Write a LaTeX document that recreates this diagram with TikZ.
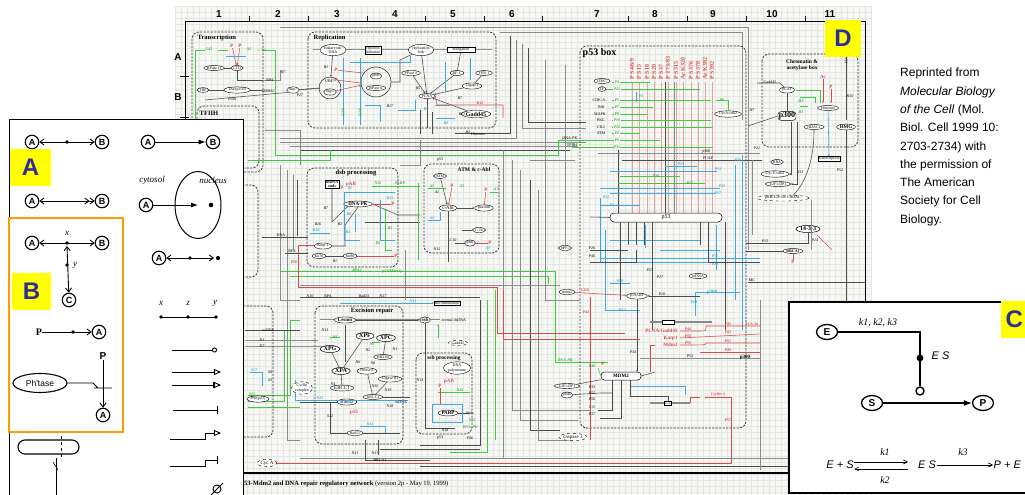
\documentclass[tikz,border=0pt]{standalone}
\usepackage{fontspec}
\setmainfont{Liberation Serif}
\newfontfamily\arialf{Liberation Sans}
\usetikzlibrary{arrows.meta,shapes.geometric}
\definecolor{gridc}{HTML}{E2E8E0}
\definecolor{bgc}{HTML}{F7F8F5}
\definecolor{grn}{HTML}{3FCB3F}
\definecolor{blu}{HTML}{3FA9DD}
\definecolor{rdc}{HTML}{DD4848}
\definecolor{pnk}{HTML}{EBA0A0}
\definecolor{gry}{HTML}{8A8A8A}
\definecolor{lblue}{HTML}{2E2E9A}
\definecolor{ylw}{HTML}{FFFF00}
\definecolor{orng}{HTML}{FF9A00}
\newcommand{\myfa}{\fontsize{4}{4.4}\selectfont}
\newcommand{\myfb}{\fontsize{5}{5.5}\selectfont}
\newcommand{\myfc}{\fontsize{6}{6.5}\selectfont}
\begin{document}
\begin{tikzpicture}[x=1pt,y=-1pt,
  lbl/.style={font=\myfa\itshape, inner sep=0.3pt},
  txt/.style={font=\myfa, inner sep=0.3pt},
  glab/.style={font=\myfa\bfseries\itshape, text=grn!85!black, inner sep=0.3pt},
  blab/.style={font=\myfa\bfseries\itshape, text=blu, inner sep=0.3pt},
  rlab/.style={font=\myfa\bfseries\itshape, text=rdc, inner sep=0.3pt},
  rp/.style={font=\myfb\bfseries, text=rdc, inner sep=0.3pt},
  rvl/.style={font=\myfc\bfseries, text=rdc, inner sep=0.3pt, rotate=90, anchor=west},
  ell/.style={ellipse, draw, line width=0.4pt, fill=white, inner sep=0.4pt, font=\myfa, align=center},
  bell/.style={ellipse, draw, line width=0.5pt, fill=white, inner sep=0.5pt, font=\myfc\bfseries},
  rbox/.style={draw, line width=0.4pt, fill=white, inner sep=0.6pt, font=\myfa, align=center},
  dbox/.style={draw=black!80, line width=0.75pt, dash pattern=on 2.2pt off 1.3pt, rounded corners=7pt},
  ttl/.style={font=\fontsize{6.5}{7}\selectfont\bfseries, inner sep=0.5pt, align=center},
  gl/.style={draw=gry, line width=0.5pt},
  kl/.style={draw=black!70, line width=0.55pt},
  gr/.style={draw=grn, line width=0.6pt},
  bu/.style={draw=blu, line width=0.6pt},
  rd/.style={draw=rdc, line width=0.55pt},
  pk/.style={draw=pnk, line width=0.6pt},
  sar/.style={-{Stealth[length=2.2pt,width=1.8pt]}},
  colnum/.style={font=\arialf\bfseries\fontsize{10}{10}\selectfont, inner sep=0pt},
  circ/.style={circle, draw, line width=1.1pt, inner sep=0pt, minimum size=13.5pt, fill=white, font=\arialf\bfseries\fontsize{9}{9}\selectfont},
  pl/.style={line width=0.9pt},
  barb/.style={{Straight Barb[length=4pt,width=6pt]}-{Straight Barb[length=4pt,width=6pt]}},
  ceq/.style={font=\arialf\itshape\fontsize{11}{11}\selectfont, inner sep=0.5pt},
  ck/.style={font=\itshape\fontsize{10}{10}\selectfont, inner sep=0.5pt},
  cell/.style={ellipse, draw, line width=1.3pt, fill=white, inner sep=0.5pt, minimum width=21pt, minimum height=15pt, font=\arialf\bfseries\fontsize{10}{10}\selectfont},
  tag/.style={fill=ylw, inner sep=0pt, text=lblue, font=\arialf\bfseries\fontsize{24}{24}\selectfont}
]
\useasboundingbox (0,0) rectangle (1025,495);
\fill[white] (0,0) rectangle (1025,495);
% ---------- background grid ----------
\fill[bgc] (175,6) rectangle (871,495);
\foreach \i in {0,...,116} \draw[gridc,line width=0.25pt] ({175+6*\i},6) -- ({175+6*\i},495);
\foreach \j in {0,...,81} \draw[gridc,line width=0.25pt] (175,{6+6*\j}) -- (871,{6+6*\j});
% ---------- frame ----------
\foreach \n/\x in {1/219,2/278,3/337,4/395,5/453,6/512,7/597,8/655,9/713,10/772,11/830}
  \node[colnum] (c\n) at (\x,14) {\n};
\foreach \x in {249,308,367,425,484,542,628,687,746,805}
  \draw[black,line width=0.8pt] (\x,16) -- (\x,22);
\node[colnum] (ra) at (178,57) {A};
\node[colnum] (rb) at (178,97) {B};
\draw[black,line width=0.8pt] (180,76) -- (189,76) (180,117) -- (189,117);
\draw[black,line width=1pt] (185,473) -- (185,22) -- (865,22) -- (865,473);
\draw[black,line width=1.4pt] (185,473) -- (865,473);
\node[anchor=west, font=\fontsize{6.5}{7}\selectfont, inner sep=0pt] (cap) at (244,484) {\textbf{53-Mdm2 and DNA repair regulatory network} (version 2p - May 19, 1999)};

% ---------- long background connectors ----------
\draw[gl] (280,27) -- (748,27) -- (748,250);
\draw[gl] (500,32) -- (742,32) -- (742,120);
\draw[kl] (510,36) -- (510,133) -- (455,133);
\draw[gl] (516,40) -- (516,138) -- (280,138);
\draw[gl] (280,142) -- (586,142);
\draw[gl] (290,146) -- (578,146);
\draw[kl] (300,150) -- (570,150);
\draw[gl] (265,130) -- (300,130) -- (300,165);
\draw[gl] (522,44) -- (522,128) -- (586,128);
\draw[kl] (528,48) -- (528,122) -- (586,122);
\draw[gl] (545,60) -- (545,300) -- (580,300);
\draw[gl] (565,65) -- (565,250);
\draw[gr] (262,50) -- (275,50) -- (275,155) -- (558,155) -- (558,140) -- (612,140);
\draw[gr] (248,160) -- (330,160) -- (330,150);
\draw[gr] (572,147) -- (612,147);
\draw[gr] (280,271) -- (555,271) -- (555,362) -- (608,362);
\draw[gr] (290,276) -- (548,276) -- (548,284);
\draw[gr] (487,300) -- (487,452) -- (450,452);
\draw[gr] (248,395) -- (290,395) -- (290,320) -- (300,320);
\draw[gr] (248,401) -- (284,401) -- (284,330);
\draw[gr] (248,407) -- (300,407);
\draw[gr] (495,290) -- (495,440);
\draw[gl] (280,165) -- (280,300) -- (300,300);
\draw[gl] (287,170) -- (287,440) -- (300,440);
\draw[gl] (293,175) -- (293,250);
\draw[kl] (297,180) -- (297,236);
\draw[gl] (503,150) -- (503,458);
\draw[gl] (512,160) -- (512,410) -- (590,410);
\draw[gl] (520,170) -- (520,420) -- (578,420);
\draw[kl] (530,180) -- (530,430) -- (560,430);
\draw[gl] (538,190) -- (538,440) -- (570,440);
\draw[kl] (480,300) -- (480,445) -- (420,445);
\draw[gl] (300,458) -- (865,458);
\draw[kl] (380,449) -- (480,449);
\draw[kl] (420,466) -- (865,466);
\draw[gl] (400,165) -- (420,165) -- (420,140);
\draw[kl] (262,237) -- (308,237);
\draw[kl] (285,253) -- (308,253);
\draw[kl] (245,330) -- (300,330);
\draw[gl] (245,340) -- (318,340);
\draw[gl] (245,346) -- (322,346);
\draw[kl] (300,297) -- (480,297);
\draw[gl] (405,250) -- (405,300);
\draw[gl] (530,160) -- (575,160);
\draw[gl] (300,285) -- (560,285);
\draw[rd] (298,245) -- (315,245);
\draw[rd] (298,245) -- (298,287) -- (497,287) -- (497,333) -- (598,333);
\draw[rd] (503,290) -- (503,339) -- (598,339);
\node[txt] (tdna) at (281,235) {DNA};
\node[txt] (trpa) at (292,251) {RPA};
\node[lbl] (th7) at (283,72) {H7};
\node[lbl] (tp27) at (300,95) {P27};
\node[glab] (trpa2) at (357,270) {RPA2};
\node[glab] (tp53m) at (392,272) {p53(Mdm2)};
\node[rlab] (tp50) at (294,262) {P50};
\node[lbl] (tn10) at (310,296) {N10};
\node[txt] (trpb) at (328,296) {RPA};
\node[txt] (trad) at (364,296) {Rad23};
\node[lbl] (tn17) at (383,296) {N17};
\node[txt] (thist) at (478,134) {Histones};
\node[lbl] (th2) at (468,132) {H2};

% ---------- Transcription ----------
\draw[dbox] (192,32) rectangle (263,172);
\node[ttl, anchor=west] (ttr) at (197,38) {Transcription};
\draw[dbox] (197,106) rectangle (259,168);
\node[ttl, anchor=west] (ttf) at (199,113) {TFIIH};
\node[ell] (rp2) at (214,68) {RPase II};
\node[ell] (ctd) at (237,68) {CTD};
\node[ell] (tbp) at (203,90) {TBP};
\node[ell] (taf) at (237,90) {TAF(p250)};
\node[ell] (skq) at (293,90) {Skp?};
\draw[gr] (205,50) -- (195,50) -- (195,172);
\draw[gr] (218,50) -- (228,50);
\node[glab] (c42) at (209,49) {C42};
\node[glab] (ta5) at (249,49) {A5};
\node[txt, text=grn!85!black] (tcab) at (262,50) {c-Abl};
\node[rp] (trp1) at (232,46) {P};
\node[rp] (trp2) at (240,46) {P};
\draw[rd,sar] (trp1) -- (ctd);
\draw[rd,sar] (trp2) -- (ctd);
\draw[bu] (226,56) -- (246,56);
\draw[kl] (rp2) -- (ctd);
\draw[kl] (ctd.south) -- (237,80) -- (265,80);
\draw[kl] (tbp) -- (taf);
\draw[kl] (taf) -- (262,90);
\draw[kl] (205,100) -- (skq.south west);
\draw[gl] (263,80) -- (280,80) -- (280,70);
\draw[kl] (skq) -- (320,88);
\node[txt] (tmdm) at (268,91) {MDM2};
\node[txt] (trpa3) at (270,80) {RPA};
\node[lbl] (tpob) at (232,99) {POB};

% ---------- Replication ----------
\draw[dbox] (308,32) rectangle (496,128);
\node[ttl, anchor=west] (trep) at (313,38) {Replication};
\draw[gry, line width=1.8pt] (313,50) -- (492,50);
\draw[white, line width=0.5pt] (313,50) -- (492,50);
\node[ell] (edna) at (333,50) {Eukaryotic\\DNA};
\node[rbox] (rini) at (373,50) {replicon\\initiation};
\node[ell] (rfrk) at (421,50) {replication\\fork};
\node[rbox, minimum width=28pt] (elng) at (461,50) {elongation};
\node[circle, draw, minimum size=22pt, line width=0.4pt] (ubfc) at (330,88) {};
\node[txt] (tubf) at (330,81) {UBF?};
\node[ell] (skp1) at (330,92) {Skp1};
\node[circle, draw, minimum size=30pt, line width=0.4pt] (prbc) at (376,82) {};
\node[ell] (prb1) at (376,76) {pRB};
\node[ell] (rpa) at (376,88) {RPase α};
\node[ell] (ppd) at (411,73) {PPase δ};
\node[ell] (rfc) at (457,73) {RF-C};
\node[ell] (fen) at (484,73) {FEN-1};
\node[ell] (lig1) at (472,86) {Ligase I};
\node[ell] (pcna) at (427,96) {PCNA};
\node[ell, font=\myfc\bfseries] (gad) at (476,114) {Gadd45};
\draw[kl,sar] (edna) -- (ubfc);
\draw[kl] (skq) -- (ubfc);
\draw[rd,sar] (skp1) -- (prbc);
\draw[kl,sar] (rfrk) -- (pcna);
\draw[kl,sar] (ppd) -- (pcna);
\draw[kl,sar] (rfc) -- (pcna);
\draw[kl,sar] (lig1) -- (pcna);
\draw[kl] (fen) -- (lig1);
\draw[kl,sar] (gad) -- (pcna);
\draw[kl] (rfc) -- (elng);
\draw[kl] (prbc.east) -- (400,82) -- (400,60) -- (rfrk);
\draw[kl] (pcna) -- (427,128);
\draw[kl] (420,110) -- (420,134);
\draw[kl] (432,112) -- (432,134);
\draw[bu] (343,58) -- (343,125);
\draw[bu] (360,58) -- (360,125);
\draw[bu] (350,62) -- (410,62) -- (410,56);
\draw[bu] (445,62) -- (445,92);
\draw[bu] (470,58) -- (470,80);
\draw[bu] (398,110) -- (415,110) -- (415,100);
\draw[bu] (365,105) -- (380,105) -- (380,122);
\draw[bu] (435,105) -- (450,105);
\draw[bu] (436,118) -- (455,118);
\node[glab, rotate=90] (g1a) at (343,112) {G1/S};
\node[glab, rotate=90] (g1b) at (360,112) {G1/S};
\node[blab] (r6) at (426,109) {R6};
\node[blab] (r8) at (446,123) {R8};
\draw[rd] (pcna.east) -- (437,105) -- (503,105) -- (503,118);
\node[rlab] (r12) at (480,103) {R12};
\node[rp] (rp3) at (336,70) {P};
\node[rp] (rp4) at (336,80) {P};
\draw[rd] (rp3) -- (363,73);
\draw[rd] (rp4) -- (361,83);
\node[lbl] (tr1) at (326,67) {R1};
\node[lbl] (tr17) at (390,106) {R17};
\node[lbl] (tr13) at (462,114) {R13};
\node[lbl] (tr7) at (460,98) {R7};
\node[lbl] (tr5) at (418,88) {R5};

% ---------- dsb processing ----------
\draw[dbox] (307,168) rectangle (398,267);
\node[ttl] (tdsb) at (356,173) {dsb processing};
\node[rbox, font=\myfa\bfseries] (dse) at (332,184) {dsDNA\\ends};
\node[ell, font=\myfb\bfseries] (dpk) at (358,204) {DNA-PK};
\node[ell] (krp) at (323,246) {Karp-1};
\node[ell] (ku70) at (319,256) {Ku70};
\node[ell] (ku80) at (350,256) {Ku80};
\draw[kl,sar] (dse) -- (332,222) -- (dpk.south west);
\draw[kl] (ku70) -- (ku80);
\draw[kl] (krp) -- (345,246) -- (345,225) -- (dpk.south);
\draw[kl] (dpk.east) -- (398,215) -- (420,215);
\draw[kl] (365,222) -- (420,222);
\draw[bu] (344,192) -- (395,192);
\draw[bu] (344,192) -- (344,240) -- (360,240);
\draw[bu] (380,200) -- (380,240) -- (395,240);
\draw[bu] (355,214) -- (355,232);
\draw[bu] (310,233) -- (330,233);
\node[blab] (b5) at (350,188) {B5};
\node[blab] (b6) at (349,214) {B6};
\node[blab] (b4) at (348,232) {B4};
\node[blab] (b13) at (390,198) {B13};
\node[blab] (b18) at (316,230) {B18};
\draw[gr] (372,186) -- (420,186);
\draw[gr] (385,210) -- (385,250) -- (392,250);
\node[glab] (n15) at (378,183) {N15};
\node[glab] (tparp) at (400,183) {PARP};
\node[glab] (d5) at (378,243) {D5};
\node[glab] (b5g) at (390,228) {B5};
\node[rp] (rp5) at (342,188) {P};
\node[rp] (rp6) at (351,184) {pAB};
\node[rp] (rp7) at (393,204) {P};
\node[rp] (rp8) at (396,256) {P};
\draw[rd] (rp7) -- (dpk);
\draw[rd] (ku80) -- (rp8);
\node[lbl] (tr7b) at (326,208) {R7};
\node[lbl] (tb16) at (318,224) {B16};
\node[lbl] (tr3) at (340,224) {R3};
\node[lbl] (tr1b) at (335,261) {R1};

% ---------- ATM & c-Abl ----------
\draw[dbox] (424,164) rectangle (499,253);
\node[ttl, font=\fontsize{5.5}{6}\selectfont\bfseries] (tatm) at (474,170) {ATM \& c-Abl};
\node[ell] (atm) at (440,176) {ATM};
\node[ell, font=\myfb] (cabl) at (448,208) {c-Abl};
\node[ell] (pax) at (484,208) {paxillin};
\node[ell] (ctk) at (479,230) {C-Tk};
\node[ell] (prba) at (470,243) {pRb};
\draw[kl,sar] (atm) -- (cabl);
\draw[kl,sar] (cabl) -- (pax);
\draw[kl] (cabl) -- (448,262);
\draw[kl] (ctk) -- (462,230);
\draw[kl] (prba) -- (455,243);
\node[rp] (rp9) at (452,186) {p};
\node[rp] (rp10) at (486,190) {P};
\node[rp] (rp11) at (490,243) {P};
\draw[rd,sar] (rp9) -- (cabl);
\draw[rd,sar] (rp10) -- (pax);
\draw[rd] (prba) -- (rp11);
\draw[gr] (428,188) -- (446,188);
\draw[gr] (490,192) -- (498,192);
\node[glab] (a5) at (432,186) {A5};
\node[glab] (a3) at (462,186) {A3};
\node[glab] (a7) at (496,189) {A7};
\draw[bu] (428,220) -- (440,220) -- (440,212);
\node[blab] (a6) at (432,218) {A6};
\node[blab] (a9) at (488,248) {A9};
\node[lbl] (ta1) at (437,192) {A1};
\node[lbl] (tc10) at (453,240) {C10};
\node[lbl] (tn12) at (437,249) {N12};
\node[txt] (tp53a) at (440,160) {p53};
\draw[gr] (418,183) -- (418,260);

% ---------- Excision repair ----------
\draw[dbox] (315,306) rectangle (403,444);
\node[ttl] (texc) at (372,311) {Excision repair};
\draw[gry, line width=1.8pt] (320,320) -- (440,320);
\draw[white, line width=0.5pt] (320,320) -- (440,320);
\node[ell, font=\myfb\bfseries] (les) at (345,320) {Lesion};
\node[ell, font=\myfb\bfseries] (ssb) at (425,320) {ssb};
\node[txt, anchor=west] (tnds) at (441,320) {normal dsDNA};
\node[bell] (xpf) at (365,336) {XPF};
\node[bell] (xpc) at (386,338) {XPC};
\node[bell] (xpg) at (330,349) {XPG};
\node[ell] (hr23) at (383,357) {HR23B};
\node[bell] (xpa) at (341,371) {XPA};
\node[ell, font=\myfb] (erc) at (342,388) {ERCC1};
\node[ell] (dpb) at (367,371) {DPase β};
\node[ell] (lg3) at (390,379) {Ligase III};
\node[ell] (xrc) at (373,397) {XRCC1};
\node[ell, font=\myfb] (r52) at (347,402) {Rad52};
\node[ell] (r51) at (355,433) {Rad51};
\draw[kl,sar] (les) -- (ssb);
\draw[kl] (xpc) -- (hr23);
\draw[kl] (345,325) -- (345,362);
\draw[kl] (xpa) -- (erc);
\draw[kl] (xpg) -- (xpa);
\draw[kl] (xpf) -- (xpa);
\draw[kl] (lg3) -- (xrc);
\draw[kl] (dpb) -- (xrc);
\draw[kl] (r52) -- (300,402);
\draw[kl] (r51) -- (400,433);
\draw[kl] (330,403) -- (330,433) -- (r51);
\draw[kl] (xrc) -- (410,397);
\draw[kl] (365,440) -- (365,460) -- (430,460);
\draw[kl] (378,440) -- (378,455);
\draw[gr] (330,337) -- (340,337);
\draw[gr] (372,342) -- (380,342);
\node[glab] (tn3) at (335,337) {N3};
\node[glab] (tn9) at (372,344) {N9};
\node[lbl] (tn13) at (325,330) {N13};
\node[lbl] (tn2) at (368,350) {N2};
\node[lbl] (tn6) at (358,362) {N6};
\node[lbl] (tn8) at (373,363) {N8};
\node[lbl] (tn1) at (395,349) {N1};
\node[lbl] (tn4) at (333,384) {N4};
\node[lbl] (tn30) at (375,386) {N30};
\node[lbl] (tn19) at (388,390) {N19};
\node[lbl] (tn18) at (390,406) {N18};
\node[lbl] (tn5) at (330,416) {S12};
\node[rbox] (recb) at (447,303) {Recombination};
\draw[bu,sar] (340,303) -- (recb);
\node[blab] (tn11) at (413,301) {N11};
\draw[bu] (295,380) -- (295,400) -- (408,400);
\node[blab] (tn11b) at (320,398) {N11};
\node[txt] (tssd) at (401,402) {ssDNA};
\draw[bu] (360,426) -- (385,426) -- (385,433);
\node[blab] (tn12b) at (370,424) {N12};
\node[rp] (tp53r) at (354,412) {p53};
\node[lbl] (tn31) at (355,453) {N31};
\node[lbl] (tn17b) at (375,453) {N17};
\node[txt] (tbrca) at (380,460) {BRCA1};

% ---------- ssb processing ----------
\draw[dbox] (416,353) rectangle (472,434);
\node[ttl, font=\fontsize{5.5}{6}\selectfont\bfseries] (tssb) at (444,358) {ssb processing};
\node[ell, dashed] (gd2) at (458,343) {Gadd45};
\node[ell] (dpol) at (457,368) {DNA\\polymerase};
\node[ell, font=\myfb\bfseries] (parp) at (448,413) {PARP};
\draw[kl] (parp) -- (470,413);
\node[txt] (tpola) at (470,413) {Polα};
\draw[kl] (ssb) -- (425,428) -- (455,428);
\draw[bu] (432,404) -- (462,404) -- (462,422) -- (432,422) -- cycle;
\draw[gr] (438,392) -- (470,392);
\draw[gr,sar] (438,338) -- (438,324);
\node[glab] (tn16) at (460,390) {N16};
\node[rp] (trpp) at (440,386) {P};
\node[rp] (trpab) at (449,381) {pAB};
\draw[rd] (trpp) -- (440,404);
\node[lbl] (tn14) at (420,380) {N14};
\node[lbl] (tn18b) at (445,430) {N18};
\node[txt] (tp53s) at (440,438) {p53};
\node[lbl] (tp46) at (470,438) {P46};
\node[glab] (tn15s) at (472,420) {N15};
\node[glab] (tdnpk) at (470,427) {DNA-PK};

% ---------- left part ----------
\draw[dbox] (205,185) rectangle (258,277);
\draw[dbox] (200,306) rectangle (273,437);
\node[ell] (pai) at (258,399) {PAI(p21)};
\node[ell, dashed] (cycc) at (302,388) {Cyclin\\complex};
\node[ell, dashed, font=\myfb] (cyca) at (267,463) {Cyc A};
\draw[rd] (cyca) -- (731,463) -- (731,397) -- (705,397);
\draw[bu] (250,372) -- (262,372) -- (262,386);
\node[blab] (ts17) at (254,370) {S17};
\node[glab] (ts11) at (252,394) {S11};
\node[lbl] (ts8) at (270,372) {S8};
\node[lbl] (ts3) at (270,380) {S3};
\node[lbl] (tsdna) at (268,330) {ssDNA};
\node[lbl] (tn1b) at (262,340) {N1};
\node[lbl] (tn7) at (262,346) {N7};

% ---------- p53 box ----------
\draw[dbox] (580,46) rectangle (746,428);
\node[ttl, font=\fontsize{10}{10}\selectfont\bfseries, anchor=west] (tp53b) at (582,53) {p53 box};
\foreach \x in {632,639,647,654,661,668,676,683,691,698,705,712}
  \draw[pk] (\x,82) -- (\x,213);
\node[rvl] (s1) at (632,80) {P S4/6/9};
\node[rvl] (s2) at (639,80) {P S15};
\node[rvl] (s3) at (647,80) {P S18};
\node[rvl] (s4) at (654,80) {P S20};
\node[rvl] (s5) at (661,80) {P S37};
\node[rvl] (s6) at (668,80) {P T73/83};
\node[rvl] (s7) at (676,80) {P S315};
\node[rvl] (s8) at (683,80) {Ac K320};
\node[rvl] (s9) at (691,80) {P S376};
\node[rvl] (s10) at (698,80) {P S378};
\node[rvl] (s11) at (705,80) {Ac K382};
\node[rvl] (s12) at (712,80) {P S392};
\draw[kl] (665,82) -- (665,213);
\draw[gl] (674,82) -- (674,213);
\draw[kl] (618,150) -- (618,213);
\node[ell] (cdk7) at (602,81) {CDK7};
\node[ell] (tf2) at (602,89) {TF};
\draw[gr] (612,82) -- (650,82);
\draw[gr] (tf2) -- (700,89);
\draw[gr] (612,100) -- (711,100);
\draw[gr] (612,107) -- (653,107);
\draw[gr] (612,114) -- (647,114);
\draw[gr] (612,120) -- (711,120);
\draw[gr] (612,127) -- (713,127);
\draw[gr] (612,133) -- (640,133);
\draw[gr] (612,140) -- (660,140);
\draw[gr] (612,147) -- (713,147);
\foreach \y/\t in {82/P4,89/P12,100/P1,107/P7,114/P8,120/P10,127/P18,133/P2,140/P6,147/P11}
  \node[glab, fill=bgc] at (617,\y) {\t};
\node[txt] (tcdka) at (600,100) {CDK-A..};
\node[txt] (tjnk) at (601,107) {JNK};
\node[txt] (tmapk) at (600,114) {MAPK};
\node[txt] (tpkc) at (601,120) {PKC};
\node[txt] (tck2) at (601,127) {CK2};
\node[txt] (tatm2) at (601,133) {ATM};
\node[txt] (tdpk2) at (570,138) {DNA-PK};
\node[txt] (ttf2) at (572,145) {TFIIH};
\draw[bu] (636,92) -- (636,102);
\node[blab] (tp12b) at (641,96) {P3};
\node[glab] (tp9) at (722,100) {P9};
\node[ell] (cyca2) at (728,114) {CycA:cdk2};
\draw[gr] (716,100) -- (728,100) -- (cyca2);
% lower part of the box
\draw[gl] (598,153) -- (760,153);
\draw[kl] (622,160) -- (762,160);
\node[txt] (tp300a) at (706,152) {p300};
\node[txt] (tpcaf) at (708,158) {PCAF};
\draw[bu] (665,166) -- (697,166);
\draw[bu] (610,171) -- (717,171);
\draw[gr] (620,176) -- (680,176);
\draw[gr] (618,183) -- (705,183);
\draw[bu] (600,188) -- (720,188);
\draw[bu] (610,193) -- (715,193);
\draw[bu] (600,205) -- (640,205);
\draw[bu] (600,198) -- (600,262) -- (760,262);
\draw[bu] (605,230) -- (605,310) -- (640,310);
\draw[bu] (742,155) -- (742,330);
\draw[bu] (735,165) -- (735,300);
\draw[bu] (600,258) -- (760,258);
\draw[bu] (610,283) -- (630,283);
\draw[bu] (695,292) -- (740,292);
\draw[bu] (695,292) -- (695,316);
\draw[bu] (630,386) -- (685,386) -- (685,395);
\draw[bu] (610,240) -- (700,240);
\draw[bu] (660,250) -- (720,250);
\draw[bu] (716,225) -- (716,270);
\draw[bu] (645,225) -- (645,248);
\node[blab] (tp23) at (681,164) {P23};
\node[blab] (tp13) at (718,169) {P13};
\node[glab] (tp20) at (656,176) {P20};
\node[glab] (tp21) at (690,183) {P21};
\node[blab] (tp22) at (722,186) {P22};
\node[blab] (tp17) at (718,193) {P17};
\node[blab] (tp32) at (606,197) {P32};
\node[blab] (tp5) at (612,205) {P5};
\node[blab] (tp26) at (738,160) {P26};
\node[blab] (tp16) at (715,256) {P16};
\node[blab] (tp22b) at (715,264) {P22};
\node[blab] (tp41) at (622,310) {P41};
\node[blab] (tp29) at (620,281) {P29};
\node[blab] (tp24) at (694,302) {P24};
\node[font=\myfb\bfseries, text=blu, inner sep=0.3pt] (tp300b) at (712,292) {p300};
\node[draw, rounded corners=4pt, fill=white, minimum width=112pt, minimum height=9pt, inner sep=0pt, font=\myfc, line width=0.5pt] (p53) at (666,217.5) {p53};
\foreach \x in {620,628,636,644,652,700,708}
  \draw[kl] (\x,222) -- (\x,245);
\draw[kl] (p53.west) -- (590,217);
\draw[kl] (620,245) -- (620,300);
\draw[kl] (652,245) -- (652,330);
\draw[kl] (708,245) -- (708,262) -- (760,262);
\draw[kl] (628,250) -- (590,250);
\draw[kl] (636,250) -- (636,262) -- (590,262);
\draw[kl] (725,222) -- (725,330);
\node[lbl] (tp26b) at (592,248) {P26};
\node[lbl] (tp46b) at (592,256) {P46};
\node[lbl] (tp27b) at (650,270) {P27};
\node[lbl] (tp17b) at (660,277) {P17};
\node[ell] (hpf1) at (565,248) {hPF1};
\node[ell] (p19) at (637,296) {p19ARF};
\node[ell] (ssd) at (698,276) {ssDNA};
\draw[kl,sar] (700,296) -- (p19);
\node[lbl] (tp10) at (662,294) {P10};
\draw[kl,sar] (p19) -- (637,372);
\node[lbl] (tp34) at (633,352) {P34};
\node[ell] (mdm2l) at (567,292) {mdm2};
\node[rlab] (tc116) at (585,290) {C116};
\draw[rd,sar] (mdm2l) -- (p19);
\draw[rd] (590,297) -- (590,440);
\node[rlab] (tp43) at (586,312) {P43};
\draw[gry, line width=1.4pt] (650,322) -- (712,322);
\node[draw, fill=white, inner sep=0pt, minimum width=12pt, minimum height=4pt] (bx1) at (668,322) {};
\node[font=\myfb\bfseries, text=rdc, inner sep=0.3pt, anchor=east] (tpcg) at (678,331) {PCNA/Gadd45};
\node[font=\myfb\bfseries, text=rdc, inner sep=0.3pt, anchor=east] (tkarp) at (678,338) {Karp1};
\node[font=\myfb\bfseries, text=rdc, inner sep=0.3pt, anchor=east] (tmdm2) at (678,345) {Mdm2};
\draw[rd] (598,333) -- (625,333);
\draw[rd] (598,339) -- (640,339);
\draw[rd] (680,331) -- (700,331) .. controls (706,331) .. (706,326) -- (760,326);
\draw[rd] (680,338) -- (760,334);
\draw[rd] (680,345) .. controls (706,345) .. (706,343) -- (760,343);
\draw[rd] (700,352) -- (760,352);
\draw[rd] (655,345) -- (650,345) -- (650,372);
\node[rlab] (tp44) at (688,329) {P44};
\node[rlab] (tp50b) at (688,336) {P50};
\node[rlab] (tp59) at (688,343) {P59};
\node[rlab] (tp45) at (728,324) {P45};
\node[rlab] (tp43b) at (728,332) {P43};
\node[rlab] (tp51) at (728,341) {P51};
\node[rlab] (tp49) at (728,350) {P49};
\node[rlab] (t16s) at (752,324) {16 S-3u};
\draw[gl] (640,358) -- (760,358);
\node[lbl] (tp53c) at (690,356) {P53};
\node[font=\myfb\bfseries, inner sep=0.3pt] (tp300c) at (745,357) {p300};
\node[draw, rounded corners=3.5pt, fill=white, minimum width=40pt, minimum height=8pt, inner sep=0pt, font=\myfb\bfseries, line width=0.5pt] (mdm2) at (621,376) {MDM2};
\draw[kl] (mdm2.east) -- (655,372);
\draw[kl] (mdm2.south) -- (621,418) -- (600,418);
\draw[kl] (612,380) -- (612,410) -- (598,410);
\draw[gry, line width=1.4pt] (650,403) -- (690,403);
\node[draw, fill=white, inner sep=0.5pt, font=\myfa] (bx2) at (668,403) {C/L};
\draw[kl] (630,380) -- (630,396) -- (668,396) -- (bx2);
\draw[rd] (700,397) -- (690,397) -- (690,403);
\node[rlab] (tcyca) at (718,395) {Cyclin A};
\node[rlab] (tp57) at (728,420) {P57};
\draw[gr] (598,368) -- (mdm2.west);
\node[glab] (tdpk3) at (565,360) {DNA-PK};
\node[glab] (tp48) at (592,366) {P48};
\node[rp] (tp117) at (603,364) {P};
\node[ell] (e2f2) at (567,386) {E2F1:DP1};
\node[ell] (prb2) at (567,395) {pRB};
\draw[kl] (e2f2) -- (mdm2);
\draw[kl] (prb2) -- (601,393) -- (612,393);
\node[lbl] (tp33) at (592,387) {P33};
\node[lbl] (tp55) at (592,393) {P55};
\node[lbl] (tp56) at (592,399) {P56};
\node[glab] (tp38) at (592,407) {P38};
\node[lbl] (tp37) at (592,414) {P37};
\node[ell, dashed, font=\myfb] (casp) at (573,437) {caspase 3};

% ---------- Chromatin & acetylase ----------
\draw[dbox] (762,54) rectangle (858,147);
\node[ttl, font=\fontsize{5.5}{6}\selectfont\bfseries] (tchr) at (802,65) {Chromatin \&\\acetylase box};
\node[ell] (pcaf) at (787,90) {pCAF};
\node[draw, rounded corners=3pt, fill=white, inner sep=0.8pt, font=\fontsize{8}{8}\selectfont\bfseries] (p300) at (787,116) {p300};
\node[ell] (hdac) at (814,127) {HDAC1};
\node[ell] (hist) at (828,108) {Histones};
\node[ell, font=\myfb\bfseries] (hmg) at (846,127) {HMG};
\node[rbox] (trans) at (829,159) {Transcription};
\node[txt] (tgad2) at (770,82) {Gadd45};
\draw[kl] (757,83) -- (780,83) -- (pcaf);
\node[rp] (tac) at (823,77) {Ac};
\node[rp] (tpp) at (831,87) {P};
\draw[rd,sar] (tac) -- (823,103);
\draw[rd,sar] (tpp) -- (831,103);
\draw[gr] (796,90) -- (820,90) -- (820,103);
\draw[gr] (800,97) -- (815,97) -- (815,103);
\draw[gr] (800,106) -- (808,106);
\node[glab] (th2b) at (801,101) {H3};
\node[glab] (th1) at (801,112) {H1};
\draw[bu,sar] (hist) -- (trans);
\draw[kl] (pcaf) -- (p300);
\draw[kl] (hdac) .. controls (814,170) and (800,190) .. (790,198);
\draw[kl] (846,30) -- (846,120);
\draw[kl] (hmg) -- (846,470);
\node[lbl, rotate=90] (th14) at (846,60) {H14};
\node[lbl] (th10) at (850,96) {H10};
\node[lbl] (tp52) at (840,170) {P52};
\node[lbl] (th13) at (800,172) {H13};
\node[ell] (rba) at (777,162) {RBA};
\node[ell] (cyce) at (775,174) {Cyc E:cdk2};
\node[ell] (e2f) at (778,184) {E2F1:DP1};
\node[ell, dashed] (prbe) at (783,198) {pRB:E2F:DP1:HDAC};
\draw[kl,sar] (797,122) -- (797,184) -- (e2f);
\draw[kl,sar] (791,122) -- (791,174) -- (cyce);
\draw[kl] (p300.west) -- (748,126);
\node[lbl] (tp22c) at (757,148) {P22};
\node[lbl] (th7b) at (752,110) {H7};
\node[bell] (t1433) at (808,229) {14-3-3};
\node[ell, font=\myfa\bfseries] (brca) at (793,251) {BRCA1};
\draw[kl] (746,243) -- (808,243) -- (t1433);
\draw[kl] (746,251) -- (brca);
\node[lbl] (tp15) at (765,241) {P15};
\node[lbl] (tp14) at (815,240) {P14};
\node[rp] (tbrp) at (793,262) {P};
\draw[rd] (brca) -- (tbrp);
\draw[rd] (817,235) -- (832,250);
\draw[kl] (748,282) -- (865,282);
\node[txt] (tmc) at (752,280) {MC};
\draw[gl] (811,200) -- (811,250);
\draw[gl] (760,300) -- (760,470);
\draw[gl] (752,160) -- (752,235);

% ================= panel A / B =================
\draw[fill=white, line width=1pt] (9,119) rectangle (243,505);
\node[circ] (a1) at (32,142) {A};
\node[circ] (b1) at (102,142) {B};
\draw[pl,barb] (a1) -- (b1);
\fill (67,142) circle (1.9);
\node[circ] (a2) at (32,201) {A};
\node[circ] (b2) at (102,201) {B};
\draw[pl,{Straight Barb[length=4pt,width=6pt]}-{Straight Barb[length=4pt,width=6pt] Straight Barb[length=4pt,width=6pt]}] (a2) -- (b2);
\node[circ] (a3) at (148,142) {A};
\node[circ] (b3) at (213,142) {B};
\draw[pl,-{Latex[length=7pt,width=5pt]}] (a3) -- (b3);
\node[ellipse, draw, line width=1pt, minimum width=46pt, minimum height=67pt] (nuc) at (198,205) {};
\node[font=\itshape\fontsize{9}{9}\selectfont, inner sep=0pt] (tcyt) at (152,180) {cytosol};
\node[font=\itshape\fontsize{9}{9}\selectfont, inner sep=0pt] (tnuc) at (213,180) {nucleus};
\node[circ] (a4) at (146,205) {A};
\coordinate (d4) at (211,205);
\draw[pl,-{Latex[length=7pt,width=5pt]}] (a4) -- (198,205);
\fill (d4) circle (2.3);
\node[circ] (a5) at (159,258) {A};
\coordinate (d5) at (218,258);
\draw[pl,barb] (a5) -- (214,258);
\fill (190,258) circle (1.9);
\fill (d5) circle (2.1);
\node[font=\itshape\fontsize{9}{9}\selectfont, inner sep=0pt] (tx) at (161,303) {x};
\node[font=\itshape\fontsize{9}{9}\selectfont, inner sep=0pt] (tz) at (188,303) {z};
\node[font=\itshape\fontsize{9}{9}\selectfont, inner sep=0pt] (ty) at (215,303) {y};
\coordinate (px) at (161,317);
\coordinate (pz) at (188,317);
\coordinate (py) at (216,317);
\draw[pl] (px) -- (py);
\fill (px) circle (1.9) (pz) circle (1.9) (py) circle (1.9);
\coordinate (l1a) at (172,350);
\coordinate (l1b) at (217,350);
\draw[pl,-{Circle[open,length=5pt]}] (l1a) -- (l1b);
\coordinate (l2a) at (172,372);
\coordinate (l2b) at (221,372);
\draw[pl,-{Triangle[open,length=7pt,width=6pt]}] (l2a) -- (l2b);
\coordinate (l3a) at (172,385);
\coordinate (l3b) at (221,385);
\draw[pl,-{Bar[width=6pt] Triangle[open,length=7pt,width=6pt]}] (l3a) -- (l3b);
\coordinate (l4a) at (173,410);
\coordinate (l4b) at (218,410);
\draw[pl,-{Bar[width=8pt,line width=1.4pt]}] (l4a) -- (l4b);
\coordinate (l5a) at (170,439);
\coordinate (l5b) at (221,433);
\draw[pl,-{Triangle[open,length=7pt,width=6pt]}] (l5a) -- (205,439) -- (205,433) -- (l5b);
\coordinate (l6a) at (170,466);
\coordinate (l6b) at (218,460);
\draw[pl,-{Bar[width=8pt,line width=1.4pt]}] (l6a) -- (205,466) -- (205,460) -- (l6b);
\node[circle, draw, line width=0.9pt, minimum size=8pt, inner sep=0pt] (nul) at (217,489) {};
\draw[pl] (211,495) -- (223,483);
% panel B content
\node[circ] (a6) at (32,243) {A};
\node[circ] (b6) at (102,243) {B};
\coordinate (xm) at (67,243);
\draw[pl,barb] (a6) -- (b6);
\fill (xm) circle (1.9);
\node[font=\itshape\fontsize{9}{9}\selectfont, inner sep=0pt] (tx2) at (67,233) {x};
\node[circ] (c6) at (69,300) {C};
\draw[pl,{Straight Barb[length=4pt,width=6pt]}-{Straight Barb[length=4pt,width=6pt]}] (67,246) -- (c6);
\fill (67,265) circle (1.9);
\node[font=\itshape\fontsize{9}{9}\selectfont, inner sep=0pt] (ty2) at (75,265) {y};
\node[font=\fontsize{10}{10}\selectfont\bfseries, inner sep=0pt] (pp) at (39,332) {P};
\node[circ] (a7) at (99,332) {A};
\draw[pl,-{Straight Barb[length=4pt,width=6pt]}] (pp) -- (a7);
\fill (73,332) circle (1.9);
\node[ellipse, draw, line width=1.1pt, minimum width=54pt, minimum height=19pt, inner sep=0pt, font=\arialf\fontsize{8.5}{9}\selectfont] (pht) at (40,383) {Ph'tase};
\node[font=\arialf\bfseries\fontsize{10}{10}\selectfont, inner sep=0pt] (pp2) at (103,356) {P};
\node[circ] (a8) at (103,415) {A};
\draw[pl] (pht) -- (93,383) -- (98,388) -- (94,388) -- (112,388);
\draw[pl,-{Straight Barb[length=4pt,width=6pt]}] (pp2) -- (a8);
\draw[draw=orng, line width=2.6pt] (9,218) rectangle (123,432);
\node[tag, minimum width=41pt, minimum height=37pt] (la) at (30.5,167.5) {A};
\node[tag, minimum width=39pt, minimum height=37pt] (lb) at (31.5,291.5) {B};
\draw[line width=1.1pt, rounded corners=7pt] (18,440) rectangle (79,454);
\draw[dashed, line width=0.6pt] (61,436) -- (61,458);
\coordinate (st1) at (56,458);
\coordinate (st2) at (56,500);
\draw[pl] (st1) -- (st2);
\draw[line width=0.6pt] (53,462) -- (58,470);

% ================= panel C =================
\draw[fill=white, line width=1.4pt] (789,302) rectangle (1035,493);
\node[tag, minimum width=40pt, minimum height=37pt, anchor=north west] (lc) at (1001,301) {\hspace{-14pt}C};
\node[cell] (ce) at (827,332) {E};
\node[cell] (cs) at (872,403) {S};
\node[cell] (cp) at (983,403) {P};
\coordinate (ces) at (920,358);
\node[circle, draw, line width=1.4pt, minimum size=8pt, inner sep=0pt, fill=white] (coc) at (920,391) {};
\draw[line width=1.1pt] (ce.east) -- (920,332) -- (coc.north);
\fill (ces) circle (3.4);
\draw[line width=1.1pt,-{Latex[length=8pt,width=6pt]}] (cs) -- (cp);
\node[ck] (tk123) at (878,323) {k1, k2, k3};
\node[ceq, anchor=west] (tes) at (931,356) {E S};
\node[ceq] (teps) at (840,465) {E + S};
\node[ceq] (tes2) at (927,465) {E S};
\node[ceq, anchor=west] (tpe) at (993,465) {P + E};
\draw[line width=0.6pt,-{Straight Barb[length=4pt,width=4pt]}] (teps.east |- 0,462) -- (908,462);
\draw[line width=0.6pt,-{Straight Barb[length=4pt,width=4pt]}] (908,469) -- (teps.east |- 0,469);
\draw[line width=0.6pt,-{Straight Barb[length=4pt,width=4pt]}] (tes2.east) -- (tpe.west);
\node[ck] (tk1) at (885,452) {k1};
\node[ck] (tk2) at (885,480) {k2};
\node[ck] (tk3) at (963,452) {k3};
% ================= panel D tag + credit =================
\node[tag, minimum width=36pt, minimum height=37pt] (ld) at (843,38.5) {D};
\node[anchor=north west, align=left, inner sep=0pt, font=\arialf\fontsize{12}{18.3}\selectfont] (cred) at (900,68) {Reprinted from\\\textit{Molecular Biology}\\\textit{of the Cell} (Mol.\\Biol. Cell 1999 10:\\2703-2734) with\\the permission of\\The American\\Society for Cell\\Biology.};
\end{tikzpicture}
\end{document}
